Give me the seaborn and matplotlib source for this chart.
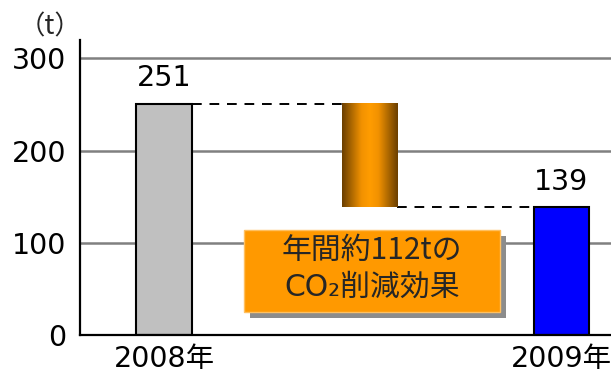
import numpy as np
import pandas as pd
import matplotlib
matplotlib.use("Agg")
import matplotlib.pyplot as plt
from matplotlib.colors import LinearSegmentedColormap
from matplotlib.patches import Rectangle
import seaborn as sns

# Annual CO2 emissions (t)
years = ["2008年", "2009年"]
emissions = [251, 139]
bar_colors = ["#C0C0C0", "#0000FF"]
reduction = emissions[0] - emissions[1]
y_ticks = [0, 100, 200, 300]
unit_label = "（t）"
note_lines = [f"年間約{reduction}tの", "CO₂削減効果"]

sns.set_theme(style="white")
plt.rcParams["font.family"] = ["DejaVu Sans", "Noto Sans CJK JP"]

W, H = 611, 372
fig = plt.figure(figsize=(W / 100, H / 100), dpi=100)
ax = fig.add_axes([80 / W, 1 - 335 / H, 1 - 80 / W, (335 - 40) / H])

df = pd.DataFrame({"year": years, "t": emissions})
order = [years[0], "", years[1]]
sns.barplot(data=df, x="year", y="t", hue="year", order=order,
            palette=dict(zip(years, bar_colors)), width=0.28, saturation=1,
            edgecolor="black", linewidth=1.5, legend=False, ax=ax)

bw = 0.28
ax.set_axisbelow(True)
ax.grid(axis="y", color="#808080", linewidth=1.8)
ax.grid(axis="x", visible=False)
for s in ["top", "right"]:
    ax.spines[s].set_visible(False)
for s in ["left", "bottom"]:
    ax.spines[s].set_color("black")
    ax.spines[s].set_linewidth(1.6)
ax.set_yticks(y_ticks)
ax.tick_params(axis="y", length=0, labelsize=20.5, colors="black", pad=10)
ax.tick_params(axis="x", length=0, labelsize=20.5, colors="black", pad=7)
ax.set_xlabel("")
ax.set_ylabel("")

# Floating reduction bar with a cylindrical orange shading
mid = 1.035
cmap = LinearSegmentedColormap.from_list(
    "amber", [(0.0, "#6A3E00"), (0.18, "#B06A00"), (0.35, "#F29200"),
              (0.5, "#FF9C00"), (0.65, "#F29200"), (0.82, "#B06A00"),
              (1.0, "#6A3E00")])
grad = np.linspace(0, 1, 256).reshape(1, -1)
ax.imshow(grad, cmap=cmap, aspect="auto", interpolation="bicubic",
          extent=[mid - bw / 2, mid + bw / 2, emissions[1], emissions[0]], zorder=3)
ax.set_xlim(-0.423, 2.25)
ax.set_ylim(0, 320)

# Dashed connectors between the bars
ax.plot([0 + bw / 2, mid - bw / 2], [emissions[0]] * 2, color="black",
        linestyle=(0, (5, 4)), linewidth=1.4, zorder=2)
ax.plot([mid + bw / 2, 2 - bw / 2], [emissions[1]] * 2, color="black",
        linestyle=(0, (5, 4)), linewidth=1.4, zorder=2)

# Value labels
for xpos, val in zip([0, 2], emissions):
    ax.annotate(f"{val}", (xpos, val), xytext=(0, 8), textcoords="offset points",
                ha="center", va="bottom", fontsize=20.5, color="black")

# Unit label
fig.text(50 / W, 1 - 27 / H, unit_label, ha="center", va="center",
         fontsize=19, family=["Noto Sans CJK JP", "DejaVu Sans"])

# Note box with drop shadow
bx0, by0, bx1, by1 = 244, 230, 500, 312
fig.patches.append(Rectangle(((bx0 + 6) / W, 1 - (by1 + 6) / H), (bx1 - bx0) / W,
                             (by1 - by0) / H, transform=fig.transFigure,
                             facecolor="#8C8C8C", edgecolor="none", zorder=5))
fig.patches.append(Rectangle((bx0 / W, 1 - by1 / H), (bx1 - bx0) / W,
                             (by1 - by0) / H, transform=fig.transFigure,
                             facecolor="#FF9900", edgecolor="#FFC060", linewidth=1, zorder=6))
cx = (bx0 + bx1) / 2 / W
fig.text(cx, 1 - 250 / H, note_lines[0], ha="center", va="center", fontsize=21.5,
         family=["Noto Sans CJK JP", "DejaVu Sans"], zorder=7)
fig.text(cx, 1 - 287 / H, note_lines[1], ha="center", va="center", fontsize=21.5,
         family=["DejaVu Sans", "Noto Sans CJK JP"], zorder=7)

fig.savefig("out.png", dpi=100, facecolor="white")
